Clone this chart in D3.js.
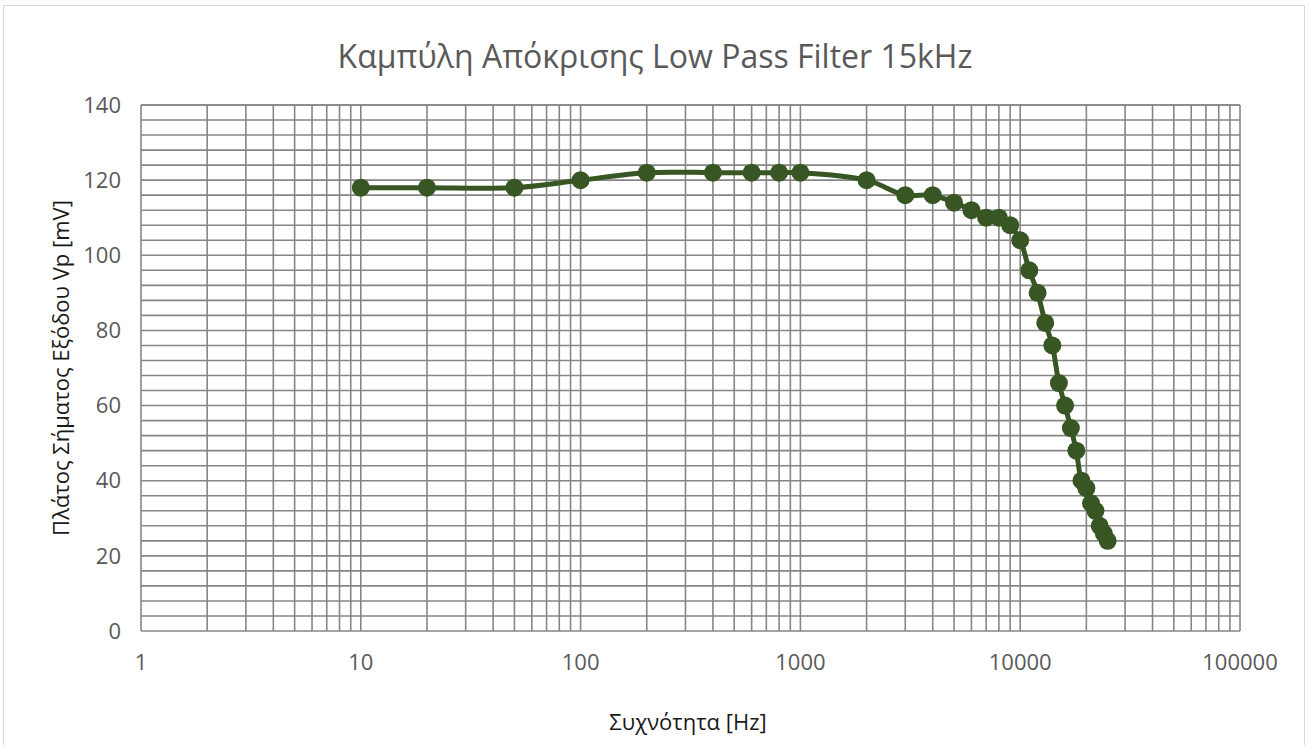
<!DOCTYPE html>
<html><head><meta charset="utf-8">
<script src="https://cdn.jsdelivr.net/npm/d3@7"></script>
<style>body{margin:0;background:#fff}svg{display:block}</style>
</head><body>
<svg id="c" width="1310" height="745"></svg>
<script>
const freqs = [10,20,50,100,200,400,600,800,1000,2000,3000,4000,5000,6000,7000,8000,9000,10000,11000,12000,13000,14000,15000,16000,17000,18000,19000,20000,21000,22000,23000,24000,25000];
const vp = [118,118,118,120,122,122,122,122,122,120,116,116,114,112,110,110,108,104,96,90,82,76,66,60,54,48,40,38,34,32,28,26,24];
const xTicks = [1,10,100,1000,10000,100000];
const yTicks = [0,20,40,60,80,100,120,140];
const title = "Καμπύλη Απόκρισης Low Pass Filter 15kHz";
const xTitle = "Συχνότητα [Hz]";
const yTitle = "Πλάτος Σήματος Εξόδου Vp [mV]";

const svg = d3.select("#c");
const L=141,R=1240,T=105,B=631;
const x = d3.scaleLog().domain([1,100000]).range([L,R]);
const y = d3.scaleLinear().domain([0,140]).range([B,T]);
const font = "'Open Sans', 'Noto Sans', sans-serif";

svg.append("rect").attr("x",3.5).attr("y",5.5).attr("width",1301).attr("height",760)
  .attr("fill","#fff").attr("stroke","#d9d9d9").attr("stroke-width",1);

const grid = svg.append("g").attr("stroke","#868686").attr("stroke-width",1.6);
d3.range(0,141,4).concat([140]).forEach(v=>{
  grid.append("line").attr("x1",L).attr("x2",R).attr("y1",y(v)).attr("y2",y(v));
});
const vx=[];
for(let d=1; d<100000; d*=10) for(let k=1;k<10;k++) vx.push(d*k);
vx.push(100000);
vx.forEach(v=>{
  grid.append("line").attr("y1",T).attr("y2",B).attr("x1",x(v)).attr("x2",x(v));
});

svg.append("g").selectAll("text").data(yTicks).join("text")
  .attr("x",121).attr("y",d=>y(d)).attr("dy","0.35em").attr("text-anchor","end")
  .attr("font-family",font).attr("font-size",22).attr("fill","#595959").text(d=>d);
svg.append("g").selectAll("text").data(xTicks).join("text")
  .attr("x",d=>x(d)).attr("y",662).attr("dy","0.35em").attr("text-anchor","middle")
  .attr("font-family",font).attr("font-size",22).attr("fill","#595959").text(d=>d);

svg.append("text").attr("x",655).attr("y",57).attr("dy","0.35em").attr("text-anchor","middle")
  .attr("font-family",font).attr("font-size",32).attr("fill","#595959").text(title);
svg.append("text").attr("x",688).attr("y",722).attr("dy","0.35em").attr("text-anchor","middle")
  .attr("font-family",font).attr("font-size",22).attr("fill","#1a1a1a").text(xTitle);
svg.append("text").attr("transform","translate(61,368) rotate(-90)").attr("dy","0.35em").attr("text-anchor","middle")
  .attr("font-family",font).attr("font-size",22).attr("fill","#1a1a1a").text(yTitle);

const pts = freqs.map((f,i)=>[x(f),y(vp[i])]);
const line = d3.line().curve(d3.curveCatmullRom.alpha(0.5));
svg.append("path").attr("d",line(pts)).attr("fill","none").attr("stroke","#375623").attr("stroke-width",5).attr("stroke-linejoin","round");
svg.append("g").selectAll("circle").data(pts).join("circle")
  .attr("cx",d=>d[0]).attr("cy",d=>d[1]).attr("r",9).attr("fill","#375623");
</script>
</body></html>
